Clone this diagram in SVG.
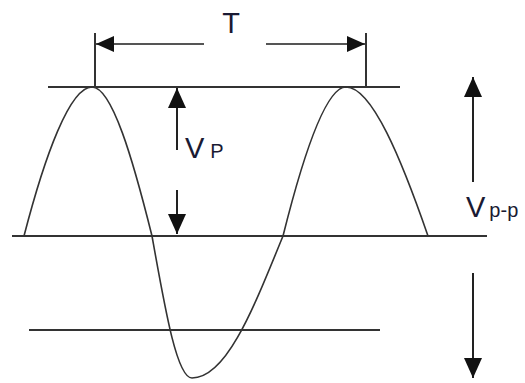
<svg xmlns="http://www.w3.org/2000/svg" width="525" height="383" viewBox="0 0 525 383">
<style>
.ln{stroke:#333;stroke-width:2;fill:none}
.wave{stroke:#333;stroke-width:1.6;fill:none}
.arr{stroke:#222;stroke-width:2;fill:none}
.lbl{font-family:"Liberation Sans",Arial,sans-serif;fill:#1a1a33}
</style>
<defs>
<marker id="ah" viewBox="0 0 20 18" refX="20" refY="9" markerWidth="20" markerHeight="18" markerUnits="userSpaceOnUse" orient="auto">
<path d="M0,0 L20,9 L0,18 Z" fill="#111"/>
</marker>
<marker id="ahs" viewBox="0 0 18 16" refX="18" refY="8" markerWidth="18" markerHeight="16" markerUnits="userSpaceOnUse" orient="auto">
<path d="M0,0 L18,8 L0,16 Z" fill="#111"/>
</marker>
</defs>
<g id="lines">
<line id="top-line" class="ln" x1="48" y1="87" x2="400" y2="87"/>
<line id="base-line" class="ln" x1="12" y1="236" x2="487" y2="236"/>
<line id="bottom-line" class="ln" x1="29" y1="330" x2="380" y2="330"/>
</g>
<g id="waveform">
<path class="wave" d="M24,236 C45,155 70,87 92,87 C112,87 133,159.7 152,236 C165,308.7 176.8,378 192,378 C226.5,378 253.3,308.7 283,236 C302,160 325,87 346,87 C372,87 401.6,159.7 428,236"/>
</g>
<g id="connectors">
<line class="ln" x1="95" y1="33" x2="95" y2="87"/>
<line class="ln" x1="366" y1="33" x2="366" y2="87"/>
<line class="arr" x1="204" y1="44" x2="96" y2="44" marker-end="url(#ahs)" style="stroke:#555"/>
<line class="arr" x1="266" y1="44" x2="365" y2="44" marker-end="url(#ahs)" style="stroke:#555"/>
<line class="arr" x1="177" y1="150" x2="177" y2="88" marker-end="url(#ah)"/>
<line class="arr" x1="177" y1="190" x2="177" y2="234" marker-end="url(#ah)"/>
<line class="arr" x1="473" y1="182" x2="473" y2="77" marker-end="url(#ah)"/>
<line class="arr" x1="473" y1="273" x2="473" y2="378" marker-end="url(#ah)"/>
</g>
<g id="label-T">
<text class="lbl" x="231" y="33" font-size="29" text-anchor="middle">T</text>
</g>
<g id="label-Vp">
<text class="lbl" x="185" y="158" font-size="29">V<tspan font-size="20" dx="6">P</tspan></text>
</g>
<g id="label-Vpp">
<text class="lbl" x="466" y="217" font-size="29">V<tspan font-size="20" dx="4">p-p</tspan></text>
</g>
</svg>
